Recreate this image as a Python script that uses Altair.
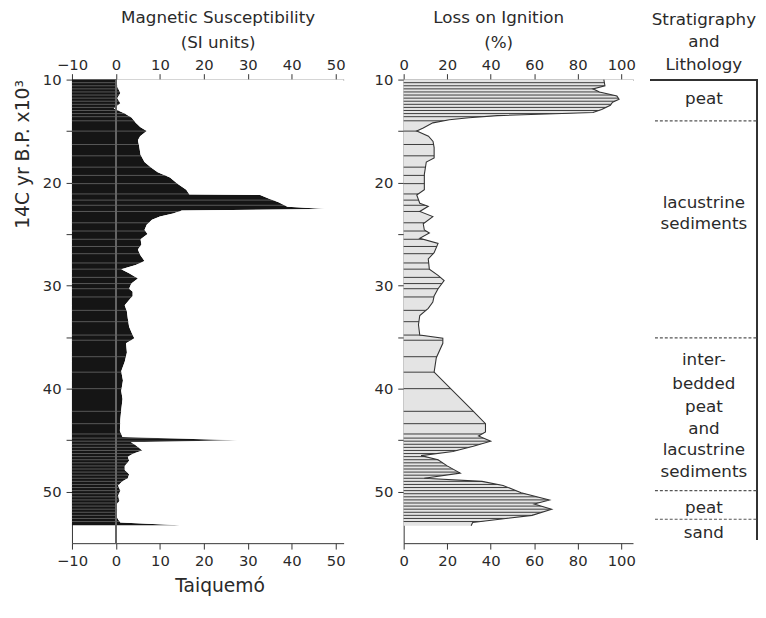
import altair as alt
import pandas as pd

FONT = "DejaVu Sans"
INK = "#2a2a2a"

# ---- Magnetic susceptibility (SI units) vs age (14C kyr BP)
ms_age = [10.0, 10.7, 11.3, 11.8, 12.3, 12.8, 13.3, 13.7, 14.2, 14.6, 15.0, 15.5, 15.9, 16.5,
          17.3, 18.0, 18.5, 19.0, 19.5, 20.1, 20.7, 21.15, 21.2, 21.6, 21.9, 22.35, 22.55, 22.7,
          23.0, 23.3, 23.6, 24.1, 24.6, 25.0, 25.5, 26.0, 26.5, 27.0, 27.6, 28.0, 28.4, 28.8,
          29.3, 29.8, 30.3, 30.6, 31.0, 31.4, 31.9, 32.5, 33.2, 34.0, 34.8, 35.1, 35.6, 36.5,
          37.4, 38.3, 39.2, 40.2, 41.0, 42.1, 43.0, 44.1, 44.7, 45.0, 45.2, 45.5, 46.0, 46.3,
          46.6, 47.0, 47.5, 47.9, 48.3, 48.7, 49.0, 49.4, 49.9, 50.4, 50.9, 51.3, 51.8, 52.3,
          52.7, 53.0, 53.25]
ms_val = [0.2, 0.3, 1.0, 0.3, 1.0, -0.5, 2.0, 3.6, 4.5, 5.5, 7.0, 5.5, 5.0, 5.3,
          5.6, 6.5, 7.9, 9.5, 12.3, 14.0, 16.0, 16.7, 32.8, 35.0, 37.0, 39.0, 47.8, 15.0,
          13.0, 10.0, 8.2, 7.0, 6.5, 7.2, 5.6, 5.8, 5.0, 5.5, 6.5, 4.5, 1.2, 3.0,
          5.0, 3.5, 3.0, 3.8, 3.8, 3.0, 2.0, 2.5, 2.7, 3.0, 3.8, 4.2, 2.3, 2.5,
          2.0, 1.2, 1.6, 1.2, 1.5, 1.2, 1.0, 0.9, 1.5, 27.7, 3.4, 4.5, 6.0, 4.0,
          2.7, 3.0, 2.0, 2.0, 3.0, 2.7, 1.5, 0.5, 1.0, 0.5, 0.8, 0.0, 0.3, 0.0,
          0.5, 1.0, 14.5]

# ---- Loss on ignition (%) vs age
loi_age = [10.0, 10.6, 10.9, 11.2, 11.6, 11.9, 12.2, 12.5, 12.9, 13.2, 13.5, 13.7, 13.9, 14.2,
           14.7, 15.0, 15.5, 16.0, 16.6, 17.6, 18.0, 19.2, 20.7, 21.2, 22.0, 22.3, 22.8, 23.3,
           24.0, 24.6, 24.9, 25.4, 25.9, 26.8, 27.4, 28.4, 29.0, 29.5, 30.3, 31.0, 31.6, 32.2,
           32.9, 33.8, 34.8, 35.1, 35.6, 37.0, 38.4, 42.1, 43.4, 44.2, 44.6, 45.1, 45.6, 46.1,
           46.5, 46.9, 47.5, 48.2, 48.7, 49.0, 49.4, 50.1, 50.8, 51.2, 51.7, 52.3, 53.0, 53.3]
loi_val = [92, 92.5, 87, 90, 98, 99, 96, 95, 91, 87, 43, 30, 21, 13.4,
           9, 6, 11.4, 13.5, 14, 14, 10.4, 9.5, 9.5, 6, 7.4, 11.3, 7.4, 13.4,
           9, 9.5, 11.8, 7.4, 15.8, 14, 11.3, 11.8, 15.8, 18.6, 15.8, 14, 13.4, 11.3,
           7.4, 6.8, 7.4, 18, 18, 15, 14, 31.6, 37.6, 37.6, 34.4, 40, 32, 22.6,
           8, 15.8, 20, 26, 9.5, 36, 45.7, 54, 67, 60, 68, 59, 31.7, 31]

# ---- sample levels (horizontal lines drawn across the profiles)
sample_ages = [10.3, 10.6, 10.9, 11.2, 11.5, 11.8, 12.1, 12.4, 12.7, 13.0, 13.3, 13.6, 14.0,
               15.0, 16.3, 17.4, 18.5, 19.3, 20.1, 21.1, 21.7, 22.2, 22.8, 23.9, 24.7, 25.5,
               26.2, 26.9, 27.8, 28.4, 29.2, 29.8, 30.3, 31.1, 32.4, 33.5, 34.8, 35.3, 36.9,
               38.4, 40.0, 42.2, 43.4, 44.4, 44.8, 45.1, 45.4, 45.7, 46.0, 46.3, 46.6, 46.9,
               47.2, 47.5, 47.8, 48.1, 48.4, 48.7, 49.0, 49.3, 49.6, 49.9, 50.2, 50.5, 50.8,
               51.1, 51.4, 51.7, 52.0, 52.3, 52.6, 52.9]

# ---- stratigraphy
boundaries = [10.0, 14.0, 35.07, 49.9, 52.68, 54.7]
strat_lines = ["peat", "lacustrine", "sediments", "inter-", "bedded", "peat", "and",
               "lacustrine", "sediments", "peat", "sand"]
strat_line_ages = [11.9, 21.96, 24.07, 37.18, 39.57, 41.77, 43.88, 45.98, 48.09, 51.63, 54.02]

ms_ticks = [-10, 0, 10, 20, 30, 40, 50]
loi_ticks = [0, 20, 40, 60, 80, 100]
age_ticks = [10, 15, 20, 25, 30, 35, 40, 45, 50]

MS_DOM = [-10, 51.8]
LOI_DOM = [0, 105.4]
AGE_DOM = [10, 55]
H = 471

ms_df = pd.DataFrame({"age": ms_age, "ms": ms_val})
loi_df = pd.DataFrame({"age": loi_age, "loi": loi_val})
samp_df = pd.DataFrame({"age": sample_ages})
bound_df = pd.DataFrame({"b": boundaries[1:-1]})
lines_df = pd.DataFrame({"age": strat_line_ages, "line": strat_lines})

y_scale = alt.Scale(domain=AGE_DOM, reverse=True, nice=False, zero=False)
ms_scale = alt.Scale(domain=MS_DOM, nice=False, zero=False)
loi_scale = alt.Scale(domain=LOI_DOM, nice=False, zero=False)
st_scale = alt.Scale(domain=[0, 1], nice=False, zero=False)

label_expr = "datum.value % 10 == 0 ? datum.label : ''"

# ================= Left panel: magnetic susceptibility
ms_top = alt.Axis(orient="top", values=ms_ticks, title=["Magnetic Susceptibility", "(SI units)"],
                  titleLineHeight=25, titlePadding=7, titleX=148, labelPadding=1)
ms_bot = alt.Axis(orient="bottom", values=ms_ticks, title="Taiquemó", titleFontSize=19,
                  titlePadding=8, titleX=150)
y_left = alt.Axis(orient="left", values=age_ticks, labelExpr=label_expr,
                  title="14C yr B.P. x10³", titleAnchor="start", titleAlign="right",
                  titleFontSize=19, titlePadding=10)

ms_fill = alt.Chart(ms_df).mark_area(orient="horizontal", color="#151515").encode(
    x=alt.X("ms:Q", scale=ms_scale, stack=False, axis=ms_top),
    x2=alt.X2Datum(MS_DOM[0]),
    y=alt.Y("age:Q", scale=y_scale, axis=y_left),
)
ms_rules = alt.Chart(samp_df).mark_rule(color="#5a5a5a", strokeWidth=1).encode(
    x=alt.XDatum(MS_DOM[0], axis=None),
    x2=alt.X2Datum(MS_DOM[1] - 2),
    y=alt.Y("age:Q"),
)
ms_mask = alt.Chart(ms_df).mark_area(orient="horizontal", color="white", opacity=1).encode(
    x=alt.X("ms:Q", stack=False, axis=ms_bot),
    x2=alt.X2Datum(MS_DOM[1]),
    y=alt.Y("age:Q"),
)
ms_zero = alt.Chart(ms_df).mark_rule(color="#666", strokeWidth=1).encode(
    x=alt.XDatum(0, axis=None),
    y=alt.YDatum(AGE_DOM[0]),
    y2=alt.Y2Datum(AGE_DOM[1]),
)
left = alt.layer(ms_fill, ms_rules, ms_mask, ms_zero).properties(width=276, height=H)

# ================= Middle panel: loss on ignition
loi_top = alt.Axis(orient="top", values=loi_ticks, title=["Loss on Ignition", "(%)"],
                   titleLineHeight=25, titlePadding=7, titleX=96, labelPadding=1)
loi_bot = alt.Axis(orient="bottom", values=loi_ticks, title=None)
y_mid = alt.Axis(orient="left", values=age_ticks, labelExpr=label_expr, title=None)

loi_fill = alt.Chart(loi_df).mark_area(orient="horizontal", color="#e4e4e4").encode(
    x=alt.X("loi:Q", scale=loi_scale, stack=False, axis=loi_top),
    x2=alt.X2Datum(LOI_DOM[0]),
    y=alt.Y("age:Q", scale=y_scale, axis=y_mid),
)
loi_rules = alt.Chart(samp_df).mark_rule(color="#3a3a3a", strokeWidth=1).encode(
    x=alt.XDatum(LOI_DOM[0], axis=None),
    x2=alt.X2Datum(LOI_DOM[1] - 4),
    y=alt.Y("age:Q"),
)
loi_mask = alt.Chart(loi_df).mark_area(orient="horizontal", color="white", opacity=1).encode(
    x=alt.X("loi:Q", stack=False, axis=loi_bot),
    x2=alt.X2Datum(LOI_DOM[1]),
    y=alt.Y("age:Q"),
)
loi_line = alt.Chart(loi_df).mark_line(orient="horizontal", color="#333", strokeWidth=1.1).encode(
    x=alt.X("loi:Q", axis=None),
    y=alt.Y("age:Q"),
)
middle = alt.layer(loi_fill, loi_rules, loi_mask, loi_line).properties(width=233, height=H)

# ================= Right panel: stratigraphy
st_top = alt.Chart(samp_df).mark_rule(color="#333", strokeWidth=1.2).encode(
    x=alt.XDatum(0, scale=st_scale, axis=None),
    x2=alt.X2Datum(1),
    y=alt.YDatum(boundaries[0], scale=y_scale, axis=None),
)
st_side = alt.Chart(samp_df).mark_rule(color="#333", strokeWidth=1.2).encode(
    x=alt.XDatum(1, axis=None),
    y=alt.YDatum(boundaries[0], axis=None),
    y2=alt.Y2Datum(boundaries[-1]),
)
st_bounds = alt.Chart(bound_df).mark_rule(color="#555", strokeWidth=1.2, strokeDash=[3, 2]).encode(
    x=alt.XDatum(0.04, axis=None),
    x2=alt.X2Datum(1),
    y=alt.Y("b:Q", axis=None),
)
st_text = alt.Chart(lines_df).mark_text(font=FONT, fontSize=17, color=INK).encode(
    x=alt.XDatum(0.5, axis=None),
    y=alt.Y("age:Q", axis=None),
    text="line:N",
)
strat = alt.layer(st_top, st_side, st_bounds, st_text).properties(
    width=108, height=H,
    title=alt.TitleParams(["Stratigraphy", "and", "Lithology"], font=FONT, fontSize=17,
                          fontWeight="normal", color=INK, lineHeight=23, offset=5,
                          anchor="middle"),
)

inner = alt.hconcat(middle, strat, spacing=14)
chart = alt.hconcat(left, inner, spacing=28).properties(
    padding={"left": 5, "top": -4, "right": 0, "bottom": 0},
    background="white",
).configure_view(stroke=None).configure_axis(
    labelFont=FONT, titleFont=FONT, labelFontSize=15, titleFontSize=17,
    labelColor=INK, titleColor=INK, domainColor="#333", tickColor="#333",
    titleFontWeight="normal", grid=False, tickSize=6, labelPadding=5, zindex=1,
    labelFlush=False,
)

chart.save("out.html", embed_options={"renderer": "svg", "actions": False})
